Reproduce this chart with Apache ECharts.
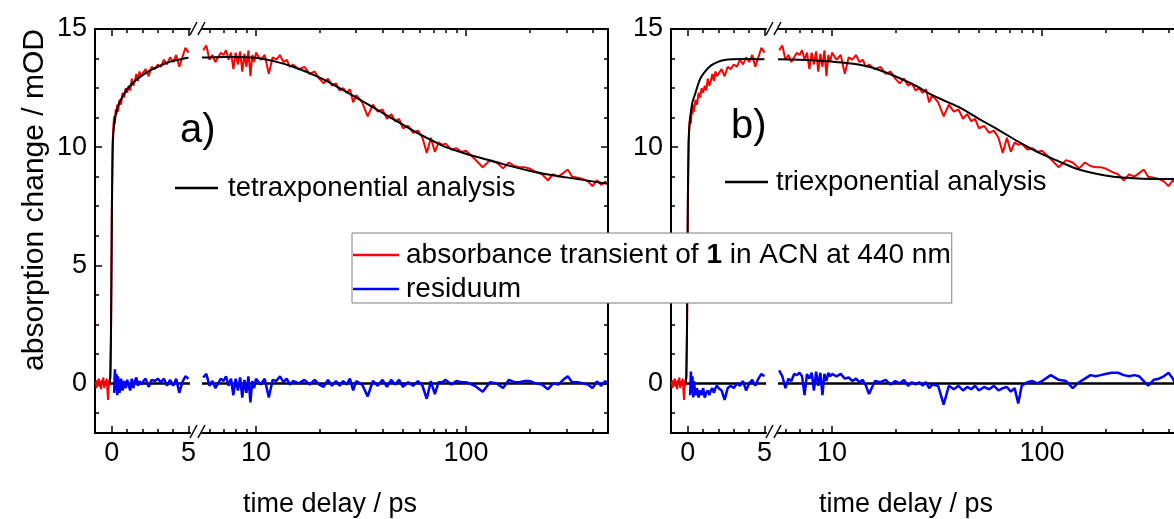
<!DOCTYPE html>
<html><head><meta charset="utf-8">
<script src="https://cdn.jsdelivr.net/npm/echarts@6/dist/echarts.min.js"></script>
<style>html,body{margin:0;padding:0;background:#fff;}#c{width:1174px;height:519px;}</style>
</head><body><div id="c"></div>
<script>
// ---------- data ----------
const tLin = [-1.05,-1.0,-0.95,-0.9,-0.85,-0.8,-0.75,-0.7,-0.65,-0.6,
  -0.55,-0.5,-0.45,-0.4,-0.35,-0.3,-0.25,-0.2,-0.15,-0.1,
  -0.05,0,0.05,0.1,0.15,0.2,0.25,0.3,0.35,0.4,
  0.5,0.6,0.7,0.8,0.9,1.0,1.1,1.2,1.3,1.4,
  1.5,1.6,1.7,1.8,1.9,2.0,2.2,2.4,2.6,2.8,
  3.0,3.2,3.4,3.6,3.8,4.0,4.2,4.4,4.6,4.8,
  5.0];
const redLin = [0.1,-0.2,0.15,-0.1,0.2,-0.15,0.1,-0.25,0.15,0.0,
  0.25,-0.2,0.1,-0.1,0.2,-0.15,-0.7,0.15,-0.1,0.3,
  2.5,7.5,10.2,10.9,11.3,11.0,11.6,11.4,11.8,11.5,
  12.0,11.8,12.3,12.1,12.5,12.3,12.6,12.4,12.9,12.6,
  12.8,13.1,12.8,13.2,13.0,13.1,13.3,13.0,13.4,13.3,
  13.5,13.4,13.7,13.5,13.8,13.6,13.9,13.4,13.8,14.2,
  14.0];
const resALin = [null,null,null,null,null,null,null,null,null,null,
  null,null,null,null,null,null,null,null,null,null,
  null,null,null,null,-0.4,0.6,-0.3,0.4,-0.5,0.3,
  -0.4,0.2,-0.3,0.1,-0.2,0.15,-0.1,-0.3,0.2,-0.2,
  0.1,0.25,-0.1,0.1,-0.05,0.05,0.2,-0.15,0.15,0.1,
  0.2,0.05,0.2,-0.1,0.15,-0.1,0.2,-0.4,0.05,0.3,
  0.2];
const resBLin = [null,null,null,null,null,null,null,null,null,null,
  null,null,null,null,null,null,null,null,null,null,
  null,null,null,null,-0.5,0.5,-0.4,0.3,-0.6,0.1,
  -0.5,-0.2,-0.6,-0.3,-0.5,-0.2,-0.6,-0.4,-0.3,-0.5,
  -0.3,-0.2,-0.4,-0.2,-0.1,-0.2,-0.3,-0.7,-0.2,-0.1,
  -0.2,0.0,-0.1,0.1,-0.3,0.0,0.15,-0.1,0.2,0.4,
  0.3];

const tLog = [5.6,5.8,6.0,6.2,6.4,6.6,6.8,7.0,7.2,7.4,
  7.6,7.8,8.0,8.2,8.4,8.6,8.8,9.0,9.2,9.4,
  9.6,9.8,10,10.5,11,11.5,12,12.5,13,13.5,
  14,14.5,15,16,17,18,19,20,21,22,
  23,24,25,26,27,28,29,30,32,34,
  36,38,40,42,44,46,48,50,53,56,
  59,62,65,68,71,74,77,80,85,90,
  95,100,110,120,130,140,150,160,170,180,
  190,200,215,230,245,260,275,290,305,320,
  340,360,380,400,420,440,460,470];
const redLog = [14.1,14.3,13.7,13.9,13.6,13.8,14.0,13.9,14.1,13.7,
  14.0,13.3,14.0,13.5,14.05,13.2,13.95,13.4,14.1,13.0,
  13.9,13.6,14.0,13.7,13.9,13.1,13.8,13.7,13.9,13.6,
  13.7,13.4,13.5,13.3,13.4,13.1,13.2,12.9,12.7,12.9,
  12.6,12.7,12.4,12.5,12.3,12.45,11.9,12.2,11.9,11.3,
  11.8,11.5,11.6,11.2,11.4,11.1,11.2,10.8,10.9,10.6,
  10.7,10.4,9.75,10.4,9.8,10.2,10.1,10.15,9.9,9.95,
  9.8,9.85,9.5,9.15,9.45,9.35,9.1,9.35,9.2,9.15,
  9.15,9.1,8.95,8.85,8.6,8.85,8.75,8.9,9.05,8.75,
  8.7,8.65,8.55,8.35,8.6,8.4,8.55,8.45];
const resALog = [0.25,0.4,-0.1,0.1,-0.2,0.0,0.2,0.1,0.3,-0.1,
  0.2,-0.5,0.2,-0.3,0.25,-0.6,0.15,-0.4,0.3,-0.8,
  0.1,-0.2,0.2,-0.05,0.2,-0.6,0.15,0.1,0.3,0.05,
  0.2,-0.05,0.1,0.0,0.15,-0.05,0.15,-0.05,-0.15,0.15,
  -0.1,0.1,-0.1,0.1,-0.05,0.2,-0.3,0.1,-0.05,-0.55,
  0.1,-0.1,0.15,-0.15,0.15,-0.05,0.15,-0.15,0.05,-0.1,
  0.1,-0.1,-0.65,0.1,-0.45,0.05,0.05,0.15,-0.05,0.1,
  0.05,0.05,-0.1,-0.35,0.05,0.0,-0.2,0.15,0.05,0.05,
  0.1,0.1,0.0,-0.05,-0.25,0.0,-0.05,0.15,0.3,0.05,
  0.05,0.0,-0.05,-0.2,0.08,-0.1,0.1,0.0];
const resBLog = [0.55,0.3,-0.2,0.2,0.1,0.4,0.35,0.45,0.3,-0.5,
  0.4,0.2,0.45,-0.3,0.5,-0.1,0.45,-0.5,0.4,0.1,
  0.45,0.3,0.4,0.3,0.4,0.2,0.25,0.1,0.2,0.05,
  0.15,-0.1,-0.45,0.1,0.05,0.15,-0.05,0.1,0.0,0.15,
  -0.1,0.05,-0.05,0.05,-0.1,0.05,-0.2,-0.05,-0.1,-0.9,
  -0.1,-0.25,-0.1,-0.3,-0.15,-0.25,-0.1,-0.3,-0.15,-0.25,
  -0.1,-0.3,-0.2,-0.15,-0.35,-0.2,-0.85,-0.1,0.05,0.1,
  0.0,0.1,0.35,0.15,0.1,-0.2,0.05,0.2,0.35,0.3,
  0.35,0.4,0.45,0.45,0.35,0.3,0.35,0.3,0.1,-0.1,
  0.15,0.2,0.3,0.45,0.2,-0.2,-0.3,-0.25];

const fitLinT = [-0.15,-0.1,-0.05,0,0.05,0.1,0.2,0.3,0.5,0.75,1.0,1.5,2.0,2.5,3.0,3.5,4.0,4.5,5.0];
const fitALin = [0,0.3,2.5,7.0,9.8,10.6,11.2,11.5,11.9,12.2,12.45,12.8,13.05,13.25,13.4,13.55,13.65,13.72,13.78];
const fitBLin = [0,0.3,2.8,7.8,10.2,10.9,11.5,11.9,12.3,12.8,13.1,13.45,13.62,13.7,13.72,13.73,13.73,13.72,13.72];
const fitLogT = [5.53,7,8,10,12,15,20,25,30,40,50,60,70,80,100,120,150,200,250,300,400,474];
const fitALog = [13.79,13.82,13.82,13.78,13.65,13.4,12.95,12.5,12.1,11.45,10.95,10.55,10.25,10.0,9.72,9.52,9.28,9.0,8.83,8.72,8.55,8.45];
const fitBLog = [13.72,13.7,13.68,13.62,13.55,13.4,13.0,12.6,12.2,11.7,11.2,10.8,10.45,10.15,9.7,9.4,9.05,8.8,8.7,8.66,8.65,8.65];

const xLinMajor = [0,5], xLinMinor = [1,2,3,4], xLinLabels = [0,5];
const xLogMajor = [10,100], xLogMinor = [6,7,8,9,20,30,40,50,60,70,80,90,200,300,400], xLogLabels = [10,100];
const yMajor = [0,5,10,15], yMinor = [-1.25,1.25,2.5,3.75,6.25,7.5,8.75,11.25,12.5,13.75], yLabels = [0,5,10,15];

const RED_NAME = 'absorbance transient of 1 in ACN at 440 nm';
const BLUE_NAME = 'residuum';
const FIT_A = 'tetraxponential analysis';
const FIT_B = 'triexponential analysis';

// ---------- layout ----------
const FONT = "'Liberation Sans', Arial, Helvetica, sans-serif";
const Y_MIN = -2.1, Y_MAX = 15;
const LIN_MIN = -1.1, LIN_MAX = 5.1, LOG_MIN = 5.53, LOG_MAX = 474;
const GTOP = 29, GH = 404;

const grids = [], xAxes = [], yAxes = [], series = [];
const tickStyle = {color:'#000', width:1.5};
const lineStyleAx = {color:'#000', width:2};

function addGrid(left, width){
  grids.push({left:left, top:GTOP, width:width, height:GH, containLabel:false, outerBoundsMode:'none'});
  return grids.length - 1;
}
function addX(gi, type, min, max, majors, minors, labels){
  const idx = xAxes.length;
  const base = {gridIndex:gi, type:type, min:min, max:max, splitLine:{show:false}, minorTick:{show:false}};
  if (type === 'log') base.logBase = 10;
  ['bottom','top'].forEach(function(pos){
    xAxes.push(Object.assign({}, base, {position:pos,
      axisLine:{show:true, onZero:false, lineStyle:lineStyleAx},
      axisTick:{show:true, inside:true, length:7, customValues:majors, lineStyle:tickStyle},
      axisLabel: pos === 'bottom' ? {show:true, customValues:labels, margin:7, color:'#000', fontSize:27, fontFamily:FONT} : {show:false}
    }));
    xAxes.push(Object.assign({}, base, {position:pos,
      axisLine:{show:false, onZero:false},
      axisTick:{show:true, inside:true, length:4, customValues:minors, lineStyle:tickStyle},
      axisLabel:{show:false}
    }));
  });
  return idx;
}
function addY(gi, pos, withLabels){
  const idx = yAxes.length;
  const base = {gridIndex:gi, type:'value', min:Y_MIN, max:Y_MAX, position:pos, splitLine:{show:false}};
  yAxes.push(Object.assign({}, base, {
    axisLine:{show:true, onZero:false, lineStyle:lineStyleAx},
    axisTick:{show:true, inside:true, length:7, customValues:yMajor, lineStyle:tickStyle},
    axisLabel: withLabels ? {show:true, customValues:yLabels, margin:8, color:'#000', fontSize:27, fontFamily:FONT} : {show:false}
  }));
  yAxes.push(Object.assign({}, base, {
    axisLine:{show:false, onZero:false},
    axisTick:{show:true, inside:true, length:4, customValues:yMinor, lineStyle:tickStyle},
    axisLabel:{show:false}
  }));
  return idx;
}
function zip(ts, vs){ return ts.map(function(t, i){ return [t, vs[i]]; }); }

function lineSeries(name, xi, yi, data, color, width, z, extra){
  return Object.assign({type:'line', name:name, xAxisIndex:xi, yAxisIndex:yi, data:data,
    symbol:'none', showSymbol:false, connectNulls:false, animation:false, silent:true, z:z,
    lineStyle:{color:color, width:width}, itemStyle:{color:color}}, extra || {});
}
const zeroLine = {silent:true, symbol:'none', z:1, animation:false, label:{show:false},
  lineStyle:{color:'#000', width:2.5, type:'solid'}, emphasis:{disabled:true}, data:[{yAxis:0}]};

function panel(off, fitName, fitLin, fitLog, resLin, resLog){
  const gL = addGrid(95 + off, 95);
  const gG = addGrid(202 + off, 406);
  const xl = addX(gL, 'value', LIN_MIN, LIN_MAX, xLinMajor, xLinMinor, xLinLabels);
  const xg = addX(gG, 'log', LOG_MIN, LOG_MAX, xLogMajor, xLogMinor, xLogLabels);
  const yl = addY(gL, 'left', true);
  const yg = addY(gG, 'right', false);
  [[xl, yl, tLin, redLin, fitLinT, fitLin, resLin], [xg, yg, tLog, redLog, fitLogT, fitLog, resLog]].forEach(function(p){
    series.push(lineSeries(RED_NAME, p[0], p[1], zip(p[2], p[3]), '#ff0000', 2, 2, {markLine: zeroLine}));
    series.push(lineSeries(fitName, p[0], p[1], zip(p[4], p[5]), '#000000', 2, 3, {smooth:0.3}));
    series.push(lineSeries(BLUE_NAME, p[0], p[1], zip(p[2], p[6]), '#0000ff', 2.5, 4));
  });
}
panel(0, FIT_A, fitALin, fitALog, resALin, resALog);
panel(576, FIT_B, fitBLin, fitBLog, resBLin, resBLog);

function breakMarks(off){
  const out = [];
  [[438, 425], [35, 22]].forEach(function(y){
    [[190, 197], [198, 205]].forEach(function(x){
      out.push({type:'line', silent:true, z:30, shape:{x1:x[0]+off, y1:y[0], x2:x[1]+off, y2:y[1]},
        style:{stroke:'#000', lineWidth:1.5}});
    });
  });
  return out;
}
function txt(text, x, y, size, rot, align){
  return {type:'text', x:x, y:y, rotation:rot || 0, silent:true, z:30,
    style:{text:text, fill:'#000', font: size + 'px ' + FONT, fontSize:size, fontFamily:FONT,
      align: align || 'center', verticalAlign:'middle', textAlign: align || 'center', textVerticalAlign:'middle'}};
}

function legendText(size, padLeft, lh){
  const t = {fontSize:size, fontFamily:FONT, color:'#000', padding:[0,0,0,padLeft],
    rich:{b:{fontWeight:'bold', fontSize:size, fontFamily:FONT, color:'#000'}}};
  if (lh) { t.lineHeight = lh; t.rich.b.lineHeight = lh; }
  return t;
}

const option = {
  backgroundColor:'#fff',
  animation:false,
  grid:grids, xAxis:xAxes, yAxis:yAxes, series:series,
  legend:[
    {data:[RED_NAME, BLUE_NAME], orient:'vertical', left:352, top:233, padding:[8,1,0,1], itemGap:6,
      icon:'rect', itemWidth:46, itemHeight:2.5, backgroundColor:'#fff', borderColor:'#7f7f7f', borderWidth:1, z:20,
      selectedMode:false, textStyle:legendText(28, 2, 24),
      formatter:function(n){ return n === RED_NAME ? 'absorbance transient of {b|1} in ACN at 440 nm' : n; }},
    {data:[FIT_A], orient:'vertical', left:175, top:174, padding:0, icon:'rect', itemWidth:43, itemHeight:2.5, z:20,
      selectedMode:false, textStyle:legendText(27.5, 5)},
    {data:[FIT_B], orient:'vertical', left:725, top:168, padding:0, icon:'rect', itemWidth:43, itemHeight:2.5, z:20,
      selectedMode:false, textStyle:legendText(27.5, 3)}
  ],
  graphic:[].concat(breakMarks(0), breakMarks(576), [
    txt('absorption change / mOD', 35, 200, 30, Math.PI/2),
    txt('time delay / ps', 330, 505, 27),
    txt('time delay / ps', 906, 505, 27),
    txt('a)', 180, 131, 40, 0, 'left'),
    txt('b)', 731, 127, 40, 0, 'left')
  ])
};
const chart = echarts.init(document.getElementById('c'), null, {renderer:'canvas'});
chart.setOption(option);
</script>
</body></html>
